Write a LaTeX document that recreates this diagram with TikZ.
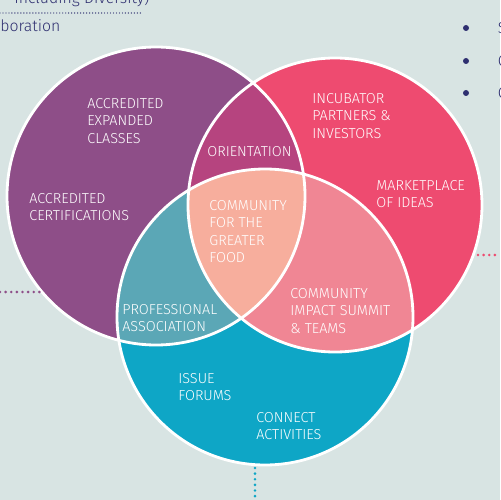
\documentclass[tikz,border=0pt]{standalone}
\usepackage{fontspec}
\setmainfont{Fira Sans}[UprightFont={* Light}]
\definecolor{bgcol}{HTML}{D8E4E3}
\definecolor{navy}{HTML}{2E2F70}
\definecolor{colA}{HTML}{8E4E88}
\definecolor{colB}{HTML}{EE4B70}
\definecolor{colC}{HTML}{0EA6C6}
\definecolor{colAB}{HTML}{B6447F}
\definecolor{colAC}{HTML}{5BA7B6}
\definecolor{colBC}{HTML}{F08694}
\definecolor{colABC}{HTML}{F7AE9D}

\begin{document}
\begin{tikzpicture}[x=0.02cm,y=-0.02cm,
  lbl/.style={text=white,font=\fontsize{8.2}{9.9}\selectfont,align=left,anchor=north west,inner sep=0pt},
  side/.style={text=navy,font=\fontsize{9}{11}\selectfont,inner sep=0pt},
  ring/.style={draw=white,line width=1.6pt},
  dots/.style={line width=1.6pt,line cap=round,dash pattern=on 0pt off 3.2pt}]
% ---------- background ----------
\fill[bgcol] (0,0) rectangle (500,500);
\useasboundingbox (0,0) rectangle (500,500);
% ---------- circles ----------
\coordinate (cA) at (156,196);
\coordinate (cB) at (335,205);
\coordinate (cC) at (265,317);
\def\circA{(cA) circle (149)}
\def\circB{(cB) circle (147)}
\def\circC{(cC) circle (148)}
\fill[colA] \circA;
\fill[colB] \circB;
\fill[colC] \circC;
% overlaps
\begin{scope}\clip \circA; \fill[colAB] \circB; \end{scope}
\begin{scope}\clip \circA; \fill[colAC] \circC; \end{scope}
\begin{scope}\clip \circB; \fill[colBC] \circC; \end{scope}
\begin{scope}\clip \circA; \clip \circB; \fill[colABC] \circC; \end{scope}
\draw[ring] \circA;
\draw[ring] \circB;
\draw[ring] \circC;
% ---------- labels ----------
\node[lbl] (accexp) at (87,98) {ACCREDITED\\EXPANDED\\CLASSES};
\node[lbl] (orient) at (207,146) {ORIENTATION};
\node[lbl] (incub) at (312,93) {INCUBATOR\\PARTNERS \&\\INVESTORS};
\node[lbl] (acccert) at (29,193) {ACCREDITED\\CERTIFICATIONS};
\node[lbl] (market) at (376,180) {MARKETPLACE\\OF IDEAS};
\node[lbl] (greater) at (209,200) {COMMUNITY\\FOR THE\\GREATER\\FOOD};
\node[lbl] (prof) at (122,304) {PROFESSIONAL\\ASSOCIATION};
\node[lbl] (impact) at (290,288) {COMMUNITY\\IMPACT SUMMIT\\\& TEAMS};
\node[lbl] (issue) at (178,373) {ISSUE\\FORUMS};
\node[lbl] (connect) at (256,412) {CONNECT\\ACTIVITIES};
% ---------- cut-off side text ----------
\node[side,anchor=base west] (divers) at (14,4) {Including Diversity)};
\node[side,anchor=base west] (collab) at (0,32) {boration};
\coordinate (tl1) at (0,13);
\coordinate (tl2) at (143,13);
\draw[navy,line width=0.8pt,line cap=round,dash pattern=on 0pt off 1.7pt] (tl1) -- (tl2);
\foreach \y/\t in {28/S,61/C,93/C}{
  \fill[navy] (466,\y) circle (3);
  \node[side,anchor=west] at (497.5,\y) {\t};
}
% ---------- dotted leaders ----------
\coordinate (lA1) at (0,292);
\coordinate (lA2) at (43,292);
\coordinate (lB1) at (478,255);
\coordinate (lB2) at (500,255);
\coordinate (lC1) at (255,468);
\coordinate (lC2) at (255,500);
\draw[dots,colA] (lA1) -- (lA2);
\draw[dots,colB] (lB1) -- (lB2);
\draw[dots,colC] (lC1) -- (lC2);
\end{tikzpicture}
\end{document}
